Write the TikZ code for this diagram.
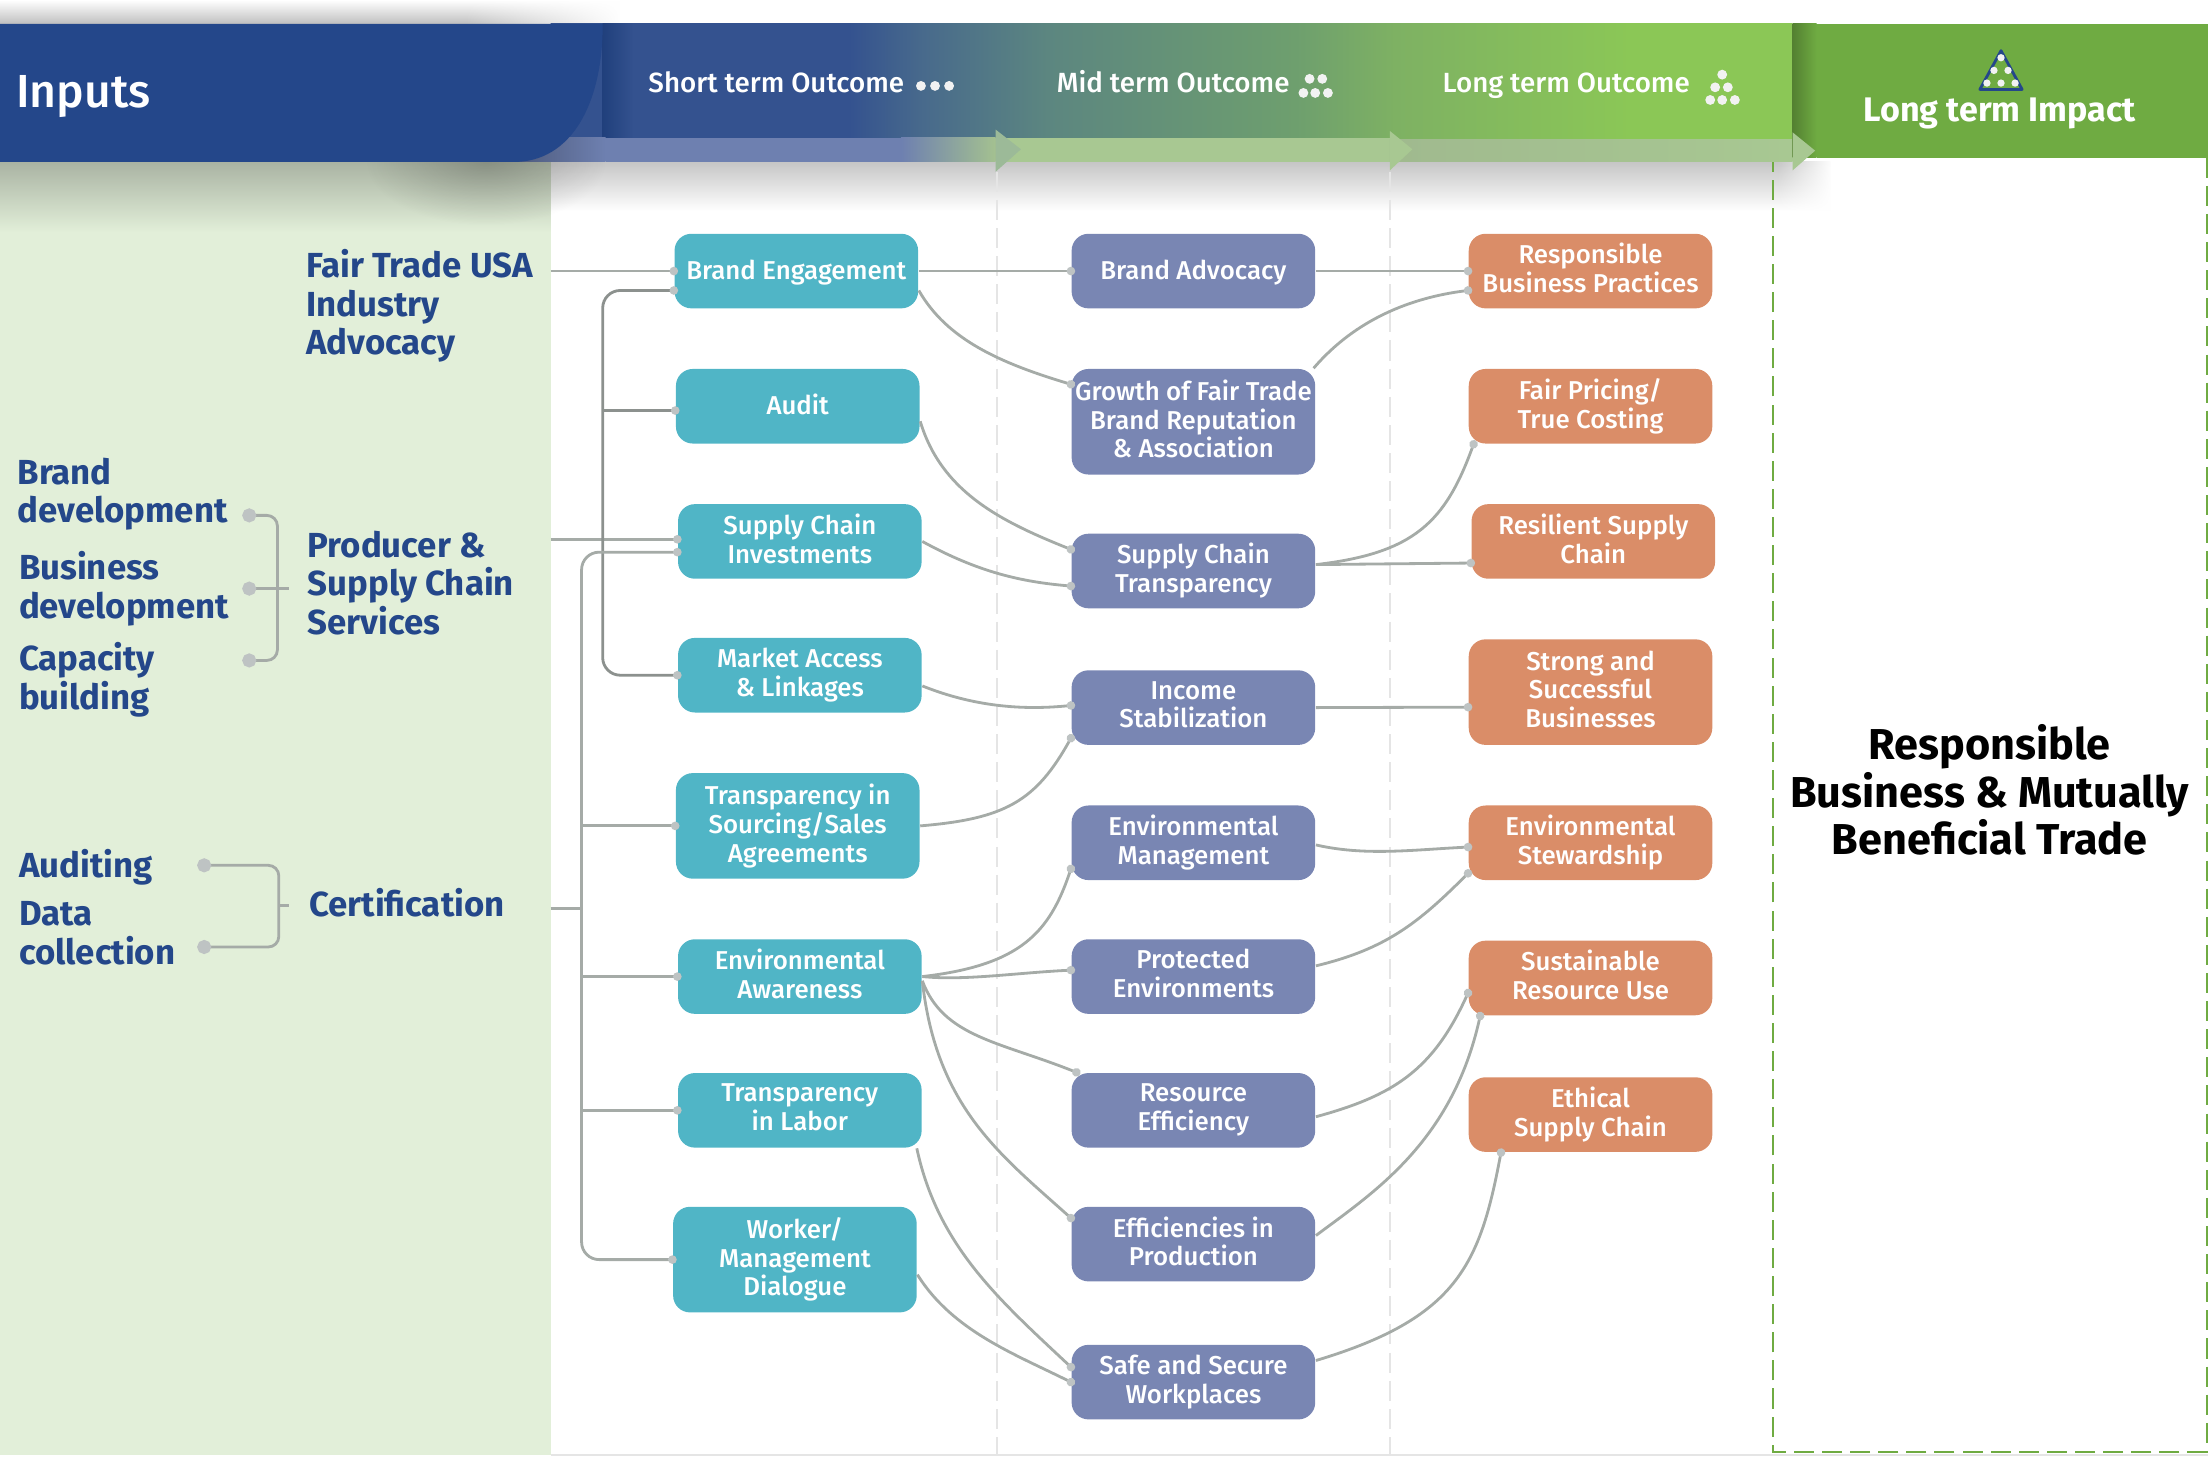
\documentclass[tikz,border=0pt]{standalone}
\usepackage{fontspec}
\setmainfont{Fira Sans Medium}[BoldFont={Fira Sans Bold}]
\usetikzlibrary{arrows.meta,fadings}

\definecolor{navy}{HTML}{24478A}
\definecolor{panelgreen}{HTML}{E2EFD9}
\definecolor{impactgreen}{HTML}{6FAB42}
\definecolor{tealbox}{HTML}{50B5C6}
\definecolor{purplebox}{HTML}{7986B3}
\definecolor{orangebox}{HTML}{DA8D68}
\definecolor{linegray}{HTML}{A5ABA7}
\definecolor{dotgray}{HTML}{BEC3C3}
\definecolor{bandblue}{HTML}{6E80B0}
\definecolor{bandgreen}{HTML}{A8C892}
\definecolor{headone}{HTML}{34528F}
\definecolor{headtwo}{HTML}{486A8C}
\definecolor{headthree}{HTML}{5C8680}
\definecolor{headfour}{HTML}{6E9F6E}
\definecolor{headfive}{HTML}{7EB163}
\definecolor{headsix}{HTML}{8BC756}

\pgfdeclarehorizontalshading{headerband}{100bp}{
	color(0bp)=(headone);
	color(37bp)=(headone);
	color(40bp)=(headtwo);
	color(45bp)=(headthree);
	color(55bp)=(headfour);
	color(59bp)=(headfive);
	color(68.5bp)=(headsix);
	color(100bp)=(headsix)}
\tikzfading[name=fadeblob,inner color=transparent!0,outer color=transparent!100]
\tikzfading[name=fadetoright,left color=transparent!100,right color=transparent!0]

\newcommand{\boxstrut}{\vrule width 0pt height 6.5pt depth 1.7pt\relax}
\newcommand{\labelstrut}{\vrule width 0pt height 8.7pt depth 2.3pt\relax}

\tikzset{
	box/.style={rounded corners=4.8pt,minimum width=2.436cm,minimum height=0.746cm,inner sep=0pt,
		align=center,text=white,font=\fontsize{7.35}{8.2}\selectfont,
		execute at begin node=\boxstrut,execute at end node=\boxstrut},
	tall/.style={minimum height=1.056cm},
	teal/.style={box,fill=tealbox},
	purple/.style={box,fill=purplebox},
	orange/.style={box,fill=orangebox},
	label/.style={anchor=west,align=left,text=navy,inner sep=0pt,font=\fontsize{9.9}{11}\selectfont\bfseries,
		execute at begin node=\labelstrut,execute at end node=\labelstrut},
	head/.style={anchor=base west,text=white,inner sep=0pt,font=\fontsize{7.9}{9}\selectfont},
	link/.style={draw=linegray,line width=0.8pt,>={Circle[length=2.4pt,color=dotgray]},shorten >=-1.2pt},
	bracket/.style={draw=linegray,line width=0.8pt,>={Circle[length=4pt,color=dotgray]},rounded corners=3pt,
		shorten >=-2pt,shorten <=-2pt},
}

\begin{document}
\begin{tikzpicture}[x=0.0140816cm,y=-0.0140816cm]
	\useasboundingbox (0,0) rectangle (1568,1042);
	% backgrounds
	\fill[panelgreen] (0,115) rectangle (391,1033);
	\draw[gray!20,line width=0.6pt] (391,1033) -- (1568,1033);
	\shade[top color=white,bottom color=gray!50] (0,0) rectangle (440,17);
	\fill[white,path fading=fadetoright] (330,0) rectangle (441,17);
	\shade[top color=gray!45,bottom color=white] (391,115) rectangle (1300,150);
	\fill[white,path fading=fadetoright] (1262,114) rectangle (1301,151);
	\shade[top color=black!25!panelgreen,bottom color=panelgreen] (0,115) rectangle (391,165);
	\fill[black,opacity=.2,path fading=fadeblob] (345,115) ellipse (85 and 45);
	% dashed columns
	\draw[gray!20,line width=0.6pt,dash pattern=on 5.7pt off 2.3pt] (708,122) -- (708,1033);
	\draw[gray!20,line width=0.6pt,dash pattern=on 5.7pt off 2.3pt] (987,122) -- (987,1033);
	\draw[impactgreen,line width=0.6pt,dash pattern=on 5.7pt off 2.3pt] (1567,112) -- (1567,1031) -- (1259,1031) -- (1259,112);
	% header
	\shade[shading=headerband] (391,17) rectangle (1273,99);
	\shade[left color=navy!90!black,right color=headone] (428,17) rectangle (450,98);
	\shade[left color=bandblue!70!black,right color=bandblue] (365,98) rectangle (430,115);
	\fill[bandblue] (430,98) rectangle (640,115);
	\shade[left color=bandblue,right color=bandgreen!90!gray] (640,98) rectangle (707,115);
	\fill[bandgreen] (707,98) rectangle (987,115);
	\shade[left color=bandgreen!80!gray,right color=bandgreen] (987,99) rectangle (1273,115);
	\fill[bandgreen!80!bandblue] (707,92) -- (725,106) -- (707,122) -- cycle;
	\fill[bandgreen] (987,93) -- (1003,106) -- (987,121) -- cycle;
	\fill[navy] (0,17) -- (428,17) .. controls (428,75) and (405,115) .. (365,115) -- (0,115) -- cycle;
	\fill[impactgreen] (1290,17) rectangle (1568,112);
	\shade[left color=impactgreen!75!black,right color=impactgreen] (1273,17) rectangle (1290,112);
	\fill[bandgreen] (1273,94) -- (1289,107) -- (1273,121) -- cycle;
	\node[head,font=\fontsize{13.2}{15}\selectfont] (inputs) at (11,76.5) {Inputs};
	\node[head] (shortterm) at (460,66) {Short term Outcome};
	\node[head] (midterm) at (750,66) {Mid term Outcome};
	\node[head] (longterm) at (1024,66) {Long term Outcome};
	\node[head,anchor=base,font=\fontsize{9.7}{11}\selectfont\bfseries] (impact) at (1420,86) {Long term Impact};
	\fill[white!90!gray] (654,61) circle (3.5) (664,61) circle (3.5) (674,61) circle (3.5);
	\fill[white!90!gray] (930,56) circle (3.5) (939,56) circle (3.5) (925.6,66) circle (3.5) (934,66) circle (3.5) (943,66) circle (3.5);
	\fill[white!90!gray] (1223,53) circle (3.5) (1218,62) circle (3.5) (1227,62) circle (3.5)
		(1214.5,71) circle (3.5) (1223,71) circle (3.5) (1232,71) circle (3.5);
	\draw[navy,line width=0.8pt,line join=round] (1421,36) -- (1406,63.5) -- (1436,63.5) -- cycle;
	\fill[white!90!gray] (1421,41) circle (2.6) (1416,50) circle (2.6) (1426,50) circle (2.6)
		(1411,59) circle (2.6) (1421,59) circle (2.6) (1431,59) circle (2.6);
	% inputs text
	\node[label] (fairtrade) at (217,217.5) {Fair Trade USA\\Industry\\Advocacy};
	\node[label] (producer) at (218,416.5) {Producer \&\\Supply Chain\\Services};
	\node[label] (certification) at (219,643) {Certification};
	\node[label] (brand) at (12,351) {Brand\\development};
	\node[label] (business) at (13,418) {Business\\development};
	\node[label] (capacity) at (13,483) {Capacity\\building};
	\node[label] (auditing) at (13,615) {Auditing};
	\node[label] (datacoll) at (13,665.5) {Data\\collection};
	% short term
	\node[teal] (engage) at (565.5,192.5) {Brand Engagement};
	\node[teal] (audit) at (566.5,288.5) {Audit};
	\node[teal] (invest) at (568,384.5) {Supply Chain\\Investments};
	\node[teal] (market) at (568,479.5) {Market Access\\\& Linkages};
	\node[teal,tall] (sourcing) at (566.5,586.5) {Transparency in\\Sourcing/Sales\\Agreements};
	\node[teal] (aware) at (568,693.5) {Environmental\\Awareness};
	\node[teal] (labor) at (568,788.5) {Transparency\\in Labor};
	\node[teal,tall] (dialogue) at (564.5,894.5) {Worker/\\Management\\Dialogue};
	% mid term
	\node[purple] (advocacy) at (847.5,192.5) {Brand Advocacy};
	\node[purple,tall] (growth) at (847.5,299.5) {Growth of Fair Trade\\Brand Reputation\\\& Association};
	\node[purple] (transp) at (847.5,405.5) {Supply Chain\\Transparency};
	\node[purple] (income) at (847.5,502.5) {Income\\Stabilization};
	\node[purple] (envmgmt) at (847.5,598.5) {Environmental\\Management};
	\node[purple] (protect) at (847.5,693.5) {Protected\\Environments};
	\node[purple] (resource) at (847.5,788.5) {Resource\\Efficiency};
	\node[purple] (effic) at (847.5,883.5) {Efficiencies in\\Production};
	\node[purple] (safe) at (847.5,981.5) {Safe and Secure\\Workplaces};
	% long term
	\node[orange] (respons) at (1129.5,192.5) {Responsible\\Business Practices};
	\node[orange] (pricing) at (1129.5,288.5) {Fair Pricing/\\True Costing};
	\node[orange] (resil) at (1131.5,384.5) {Resilient Supply\\Chain};
	\node[orange,tall] (strong) at (1129.5,491.5) {Strong and\\Successful\\Businesses};
	\node[orange] (steward) at (1129.5,598.5) {Environmental\\Stewardship};
	\node[orange] (sustain) at (1129.5,694.5) {Sustainable\\Resource Use};
	\node[orange] (ethical) at (1129.5,791.5) {Ethical\\Supply Chain};
	% impact
	\node[anchor=center,align=center,inner sep=0pt,font=\fontsize{12.3}{13.6}\selectfont\bfseries] (mutual) at (1413,561)
		{Responsible\\Business \& Mutually\\Beneficial Trade};
	% free ends
	\coordinate (edge) at (391,0);
	\coordinate (busone) at (428,0);
	\coordinate (bustwo) at (413,0);
	\coordinate (certout) at (391,645);
	\coordinate (dotbrand) at (177,366);
	\coordinate (dotbusiness) at (177,418);
	\coordinate (dotcapacity) at (177,469);
	\coordinate (tickprod) at (205,418);
	\coordinate (dotaudit) at (145,614.5);
	\coordinate (dotdata) at (145,672.5);
	\coordinate (tickcert) at (205,643);
	% brackets
	\draw[bracket,<->] (dotbrand) -| (197,418) |- (dotcapacity);
	\draw[bracket,<-,shorten >=0pt] (dotbusiness) -- (tickprod);
	\draw[bracket,<->] (dotaudit) -| (198,643) |- (dotdata);
	\draw[bracket,-,shorten <=0pt,shorten >=0pt] (198,643) -- (tickcert);
	% buses
	\draw[link,->] (edge |- engage.west) -- (engage.west);
	\draw[link,->] (edge |- invest.179) -- (invest.179);
	\draw[link,<->,shorten <=-1.2pt,draw=linegray!85!black,rounded corners=5pt] (engage.189.5) -| (busone |- audit.west) |- (market.west);
	\draw[link,->,draw=linegray!85!black] (busone |- audit.182) -- (audit.182);
	\draw[link,<->,shorten <=-1.2pt,rounded corners=5pt] (invest.185) -| (bustwo |- aware.west) |- (dialogue.west);
	\draw[link,->] (bustwo |- sourcing.west) -- (sourcing.west);
	\draw[link,->] (bustwo |- aware.west) -- (aware.west);
	\draw[link,->] (bustwo |- labor.west) -- (labor.west);
	\draw[link,-,shorten >=0pt] (certout) -- (bustwo |- certout);
	% short to mid
	\draw[link,->] (engage.east) -- (advocacy.west);
	\draw[link,->] (engage.-9.5) .. controls +(20,35) and +(-50,-15) .. (growth.163.6);
	\draw[link,->] (audit.-7.6) .. controls +(15,50) and +(-50,-20) .. (transp.170.5);
	\draw[link,->] (invest.east) .. controls +(40,22) and +(-35,-3) .. (transp.187.6);
	\draw[link,->] (market.-5.6) .. controls +(40,16) and +(-30,3) .. (income.179);
	\draw[link,->] (sourcing.east) .. controls +(60,-5) and +(-25,45) .. (income.194.6);
	\draw[link,->] (aware.east) .. controls +(70,-8) and +(-15,45) .. (envmgmt.192);
	\draw[link,->] (aware.east) .. controls +(30,3) and +(-40,2) .. (protect.177.7);
	\draw[link,->] (aware.-2.3) .. controls +(15,40) and +(-55,-22) .. (resource.162);
	\draw[link,->] (aware.-2.3) .. controls +(10,90) and +(-50,-45) .. (effic.168);
	\draw[link,->] (labor.-18) .. controls +(15,70) and +(-50,-47) .. (safe.173.7);
	\draw[link,->] (dialogue.-7) .. controls +(25,40) and +(-40,-20) .. (safe.180);
	% mid to long
	\draw[link,->] (advocacy.east) -- (respons.west);
	\draw[link,->] (growth.24) .. controls +(30,-35) and +(-40,5) .. (respons.189);
	\draw[link,->] (transp.3) .. controls +(70,-8) and +(-20,55) .. (pricing.198.7);
	\draw[link,->] (transp.3) -- (resil.190.8);
	\draw[link,->] (income.east) -- (strong.187.6);
	\draw[link,->] (envmgmt.-1.6) .. controls +(35,8) and +(-40,2) .. (steward.182.3);
	\draw[link,->] (protect.5) .. controls +(50,-12) and +(-35,35) .. (steward.194);
	\draw[link,->] (resource.-3) .. controls +(55,-15) and +(-25,55) .. (sustain.187.6);
	\draw[link,->] (effic.4.3) .. controls +(40,-30) and +(-20,90) .. (sustain.199.8);
	\draw[link,->] (safe.10.2) .. controls +(100,-30) and +(-15,80) .. (ethical.203.3);
\end{tikzpicture}
\end{document}
